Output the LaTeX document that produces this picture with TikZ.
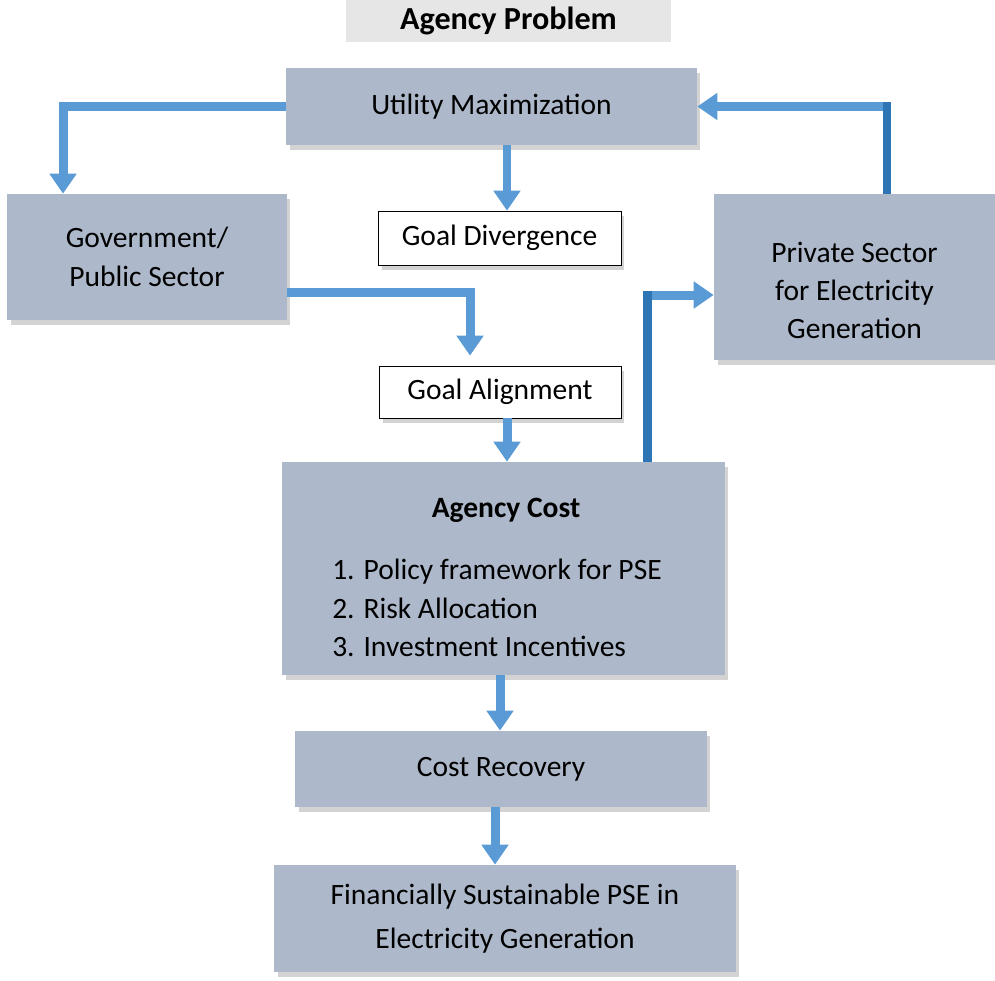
\documentclass[tikz,border=0pt]{standalone}
\usepackage{fontspec}
\setmainfont{Carlito}
\usetikzlibrary{arrows.meta, shadows}
\definecolor{boxColor}{HTML}{ADB9CA}
\definecolor{arrowColor}{HTML}{5B9BD5}
\definecolor{darkArrowColor}{HTML}{2E75B6}
\definecolor{titleColor}{HTML}{E7E6E6}

\begin{document}
\begin{tikzpicture}[x=0.02cm, y=-0.02cm,
    every node/.style={font=\fontsize{16.8}{21.8}\selectfont, inner sep=0pt, align=center},
    box/.style={fill=boxColor, drop shadow={shadow xshift=2pt, shadow yshift=-3pt, opacity=0.35}},
    tag/.style={draw=black, thin, fill=white, drop shadow={shadow xshift=2pt, shadow yshift=-3pt, opacity=0.35}},
    flow/.style={arrowColor, line width=0.18cm, -{Triangle[width=0.52cm, length=0.4cm]}},
    flowDark/.style={darkArrowColor, line width=0.18cm}]
    \useasboundingbox (0,0) rectangle (995,981);
    \node[fill=titleColor, minimum width=6.5cm, minimum height=0.84cm, font=\fontsize{18.3}{22}\selectfont\bfseries] (title) at (508.5,21) {Agency Problem};
    \node[box, minimum width=8.22cm, minimum height=1.54cm] (utility) at (491.5,106.5) {Utility Maximization};
    \node[box, minimum width=5.6cm, minimum height=2.52cm] (gov) at (147,257) {Government/\\Public Sector};
    \node[tag, minimum width=4.86cm, minimum height=1.08cm] (divergence) at (499.5,238) {Goal Divergence};
    \node[box, minimum width=5.62cm, minimum height=3.32cm] (private) at (854.5,277) {\rule{0pt}{0.95cm}Private Sector\\for Electricity\\Generation};
    \node[tag, minimum width=4.84cm, minimum height=1.04cm] (alignment) at (500,392) {Goal Alignment};
    \node[box, minimum width=8.86cm, minimum height=4.26cm] (agency) at (503.5,568.5) {};
    \node[font=\fontsize{16.8}{21.8}\selectfont\bfseries] (agencyTitle) at (506,510) {Agency Cost};
    \node[align=left] (agencyList) at (497,608) {1. Policy framework for PSE\\2. Risk Allocation\\3. Investment Incentives};
    \node[box, minimum width=8.24cm, minimum height=1.52cm] (recovery) at (501,769) {Cost Recovery};
    \node[box, minimum width=9.24cm, minimum height=2.14cm] (finance) at (505,918.5) {Financially Sustainable PSE in\\[0.1cm]Electricity Generation};

    \coordinate (utilOut) at ([xshift=0.31cm]utility.south);
    \coordinate (govOut) at ([yshift=-0.72cm]gov.east);
    \coordinate (alignIn) at ([xshift=-0.6cm]alignment.north);
    \coordinate (alignOut) at ([xshift=0.14cm]alignment.south);
    \coordinate (costUp) at ([xshift=2.89cm]agency.north);
    \coordinate (privateIn) at ([yshift=-0.36cm]private.west);
    \coordinate (privateUp) at ([xshift=0.65cm]private.north);
    \coordinate (agencyOut) at ([xshift=-0.07cm]agency.south);
    \coordinate (recoveryOut) at ([xshift=-0.12cm]recovery.south);

    \draw[flow] (utility.west) -| ([xshift=-1.68cm]gov.north);
    \draw[flow] (utilOut) -- (utilOut |- divergence.north);
    \draw[flow, shorten >=0.2cm] (govOut) -| (alignIn);
    \draw[flow] (alignOut) -- (alignOut |- agency.north);
    \draw[flow] (costUp) |- (privateIn);
    \draw[flowDark] (costUp) -- ([yshift=0.09cm]costUp |- privateIn);
    \draw[flow] (privateUp) |- (utility.east);
    \draw[flowDark] (privateUp) -- ([yshift=0.09cm]privateUp |- utility.east);
    \draw[flow] (agencyOut) -- (agencyOut |- recovery.north);
    \draw[flow] (recoveryOut) -- (recoveryOut |- finance.north);
\end{tikzpicture}
\end{document}
